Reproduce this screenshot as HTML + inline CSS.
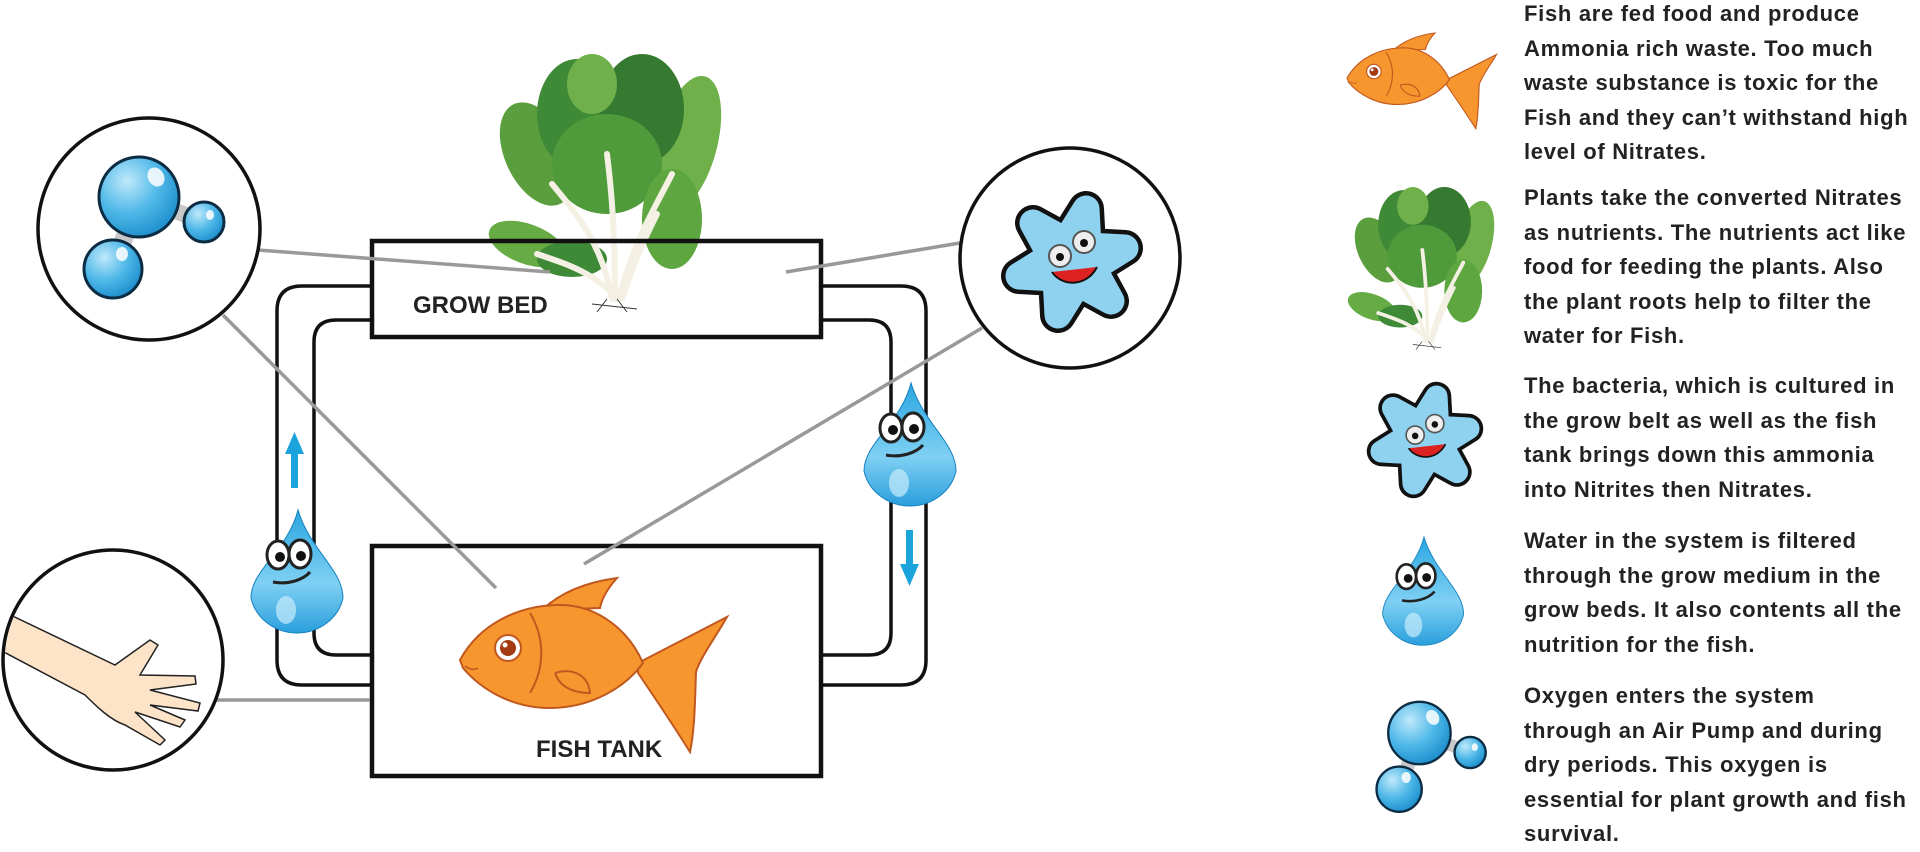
<!DOCTYPE html>
<html><head><meta charset="utf-8"><style>
html,body{margin:0;padding:0;background:#fff;}
body{width:1920px;height:851px;position:relative;overflow:hidden;font-family:"Liberation Sans",Arial,sans-serif;}
.p{position:absolute;left:1524px;width:400px;font-weight:bold;font-size:22px;line-height:34.5px;letter-spacing:0.7px;color:#222;white-space:nowrap;}
svg{position:absolute;left:0;top:0;}
</style></head><body>
<svg width="1920" height="851" viewBox="0 0 1920 851">
<defs>
<radialGradient id="bl" cx="0.35" cy="0.3" r="0.8"><stop offset="0" stop-color="#bfe9fb"/><stop offset="0.5" stop-color="#4fb8e8"/><stop offset="1" stop-color="#1387c8"/></radialGradient>
<linearGradient id="dr" x1="0" y1="0" x2="0" y2="1"><stop offset="0" stop-color="#2aa6e0"/><stop offset="0.6" stop-color="#7fd0f3"/><stop offset="1" stop-color="#2a9fdc"/></linearGradient>
<g id="fish">
 <path d="M82,32 C105,10 135,3 157,0 C148,10 142,20 140,30 Z" fill="#f7962e" stroke="#c0571f" stroke-width="2"/>
 <path d="M178,85 L267,39 C255,60 240,80 236,94 C235,120 235,150 230,174 C215,150 195,120 178,95 Z" fill="#f7962e" stroke="#c0571f" stroke-width="2"/>
 <path d="M0,82 C20,45 60,27 100,27 C140,27 170,55 183,85 C165,110 130,130 90,130 C50,130 20,110 3,90 Z" fill="#f7962e" stroke="#c0571f" stroke-width="2"/>
 <path d="M70,35 C85,60 85,90 70,115" fill="none" stroke="#c0571f" stroke-width="2"/>
 <path d="M95,95 C110,90 128,95 130,115 C115,115 100,110 95,95" fill="none" stroke="#c0571f" stroke-width="2"/>
 <path d="M5,88 C10,92 15,92 18,90" fill="none" stroke="#c0571f" stroke-width="1.5"/>
 <circle cx="48" cy="70" r="13" fill="#fff" stroke="#c0571f" stroke-width="2"/>
 <circle cx="48" cy="70" r="8" fill="#a33a12"/>
 <circle cx="45" cy="67" r="2.5" fill="#fff"/>
</g>
<g id="drop">
 <path d="M50,0 C62,40 95,60 95,88 A47,44 0 0 1 3,88 C3,60 40,40 50,0Z" fill="url(#dr)" stroke="#1580c0" stroke-width="1"/>
 <ellipse cx="30" cy="45" rx="11" ry="14" fill="#fff" stroke="#222" stroke-width="3"/>
 <ellipse cx="52" cy="44" rx="11" ry="14" fill="#fff" stroke="#222" stroke-width="3"/>
 <circle cx="32" cy="47" r="5" fill="#111"/><circle cx="53" cy="46" r="5" fill="#111"/>
 <path d="M25,72 C40,75 55,70 62,62" fill="none" stroke="#222" stroke-width="3"/>
 <ellipse cx="38" cy="100" rx="10" ry="14" fill="#c8ecfb" opacity="0.7"/>
</g>
<g id="mol">
 <line x1="-11" y1="-32" x2="54" y2="-7" stroke="#c8c8c8" stroke-width="16"/>
 <line x1="-11" y1="-32" x2="-37" y2="40" stroke="#c8c8c8" stroke-width="18"/>
 <circle cx="-11" cy="-32" r="40" fill="url(#bl)" stroke="#0c2c44" stroke-width="3"/>
 <circle cx="54" cy="-7" r="20" fill="url(#bl)" stroke="#0c2c44" stroke-width="3"/>
 <circle cx="-37" cy="40" r="29" fill="url(#bl)" stroke="#0c2c44" stroke-width="3"/>
 <ellipse cx="6" cy="-52" rx="8" ry="10" fill="#fff" opacity="0.85" transform="rotate(-30 6 -52)"/>
 <ellipse cx="60" cy="-14" rx="4" ry="5" fill="#fff" opacity="0.85"/>
 <ellipse cx="-28" cy="25" rx="6" ry="7" fill="#fff" opacity="0.85"/>
</g>
<g id="bac">
 <polygon points="14,-53 16,-16 53,-14 21,6 39,39 6,21 -14,53 -16,16 -53,14 -21,-6 -39,-39 -6,-21" fill="#111" stroke="#111" stroke-width="36" stroke-linejoin="round"/>
 <polygon points="14,-53 16,-16 53,-14 21,6 39,39 6,21 -14,53 -16,16 -53,14 -21,-6 -39,-39 -6,-21" fill="#8fd2ef" stroke="#8fd2ef" stroke-width="27" stroke-linejoin="round"/>
 <circle cx="-12" cy="-6" r="11" fill="#eee" stroke="#555" stroke-width="2"/><circle cx="-12" cy="-5" r="4" fill="#111"/>
 <circle cx="12" cy="-20" r="11" fill="#eee" stroke="#555" stroke-width="2"/><circle cx="12" cy="-19" r="4" fill="#111"/>
 <path d="M-20,10 C-10,25 15,25 25,5" fill="#d22" stroke="#111" stroke-width="2"/>
</g>
<g id="plant">
 <ellipse cx="40" cy="100" rx="32" ry="55" fill="#5b9e3e" transform="rotate(-25 40 100)"/>
 <ellipse cx="190" cy="90" rx="30" ry="70" fill="#6fb04a" transform="rotate(15 190 90)"/>
 <ellipse cx="80" cy="60" rx="40" ry="55" fill="#3f8a36"/>
 <ellipse cx="145" cy="55" rx="42" ry="55" fill="#357a30"/>
 <ellipse cx="110" cy="110" rx="55" ry="50" fill="#4f9a3a"/>
 <ellipse cx="30" cy="190" rx="40" ry="20" fill="#67ab45" transform="rotate(20 30 190)"/>
 <ellipse cx="75" cy="205" rx="35" ry="18" fill="#3f8a36"/>
 <ellipse cx="175" cy="165" rx="30" ry="50" fill="#5ea640"/>
 <ellipse cx="95" cy="30" rx="25" ry="30" fill="#6fb04a"/>
 <g stroke="#f4f1e4" stroke-width="6" fill="none" stroke-linecap="round">
  <path d="M115,245 C105,190 80,160 55,130"/><path d="M118,245 C118,180 115,140 110,100"/>
  <path d="M122,245 C135,190 160,150 175,120"/><path d="M120,245 C100,220 70,210 40,200"/>
  <path d="M125,245 C140,200 150,180 160,160"/>
 </g>
 <g stroke="#333" stroke-width="1" fill="none"><path d="M95,250 L140,255 M110,245 L100,258 M120,245 L130,258"/></g>
</g>
</defs>

<g fill="none" stroke="#111" stroke-width="3.5">
 <path d="M372,286 H302 Q277,286 277,311 V660 Q277,685 302,685 H372"/>
 <path d="M372,320 H336 Q314,320 314,342 V633 Q314,655 336,655 H372"/>
 <path d="M821,286 H901 Q926,286 926,311 V660 Q926,685 901,685 H821"/>
 <path d="M821,320 H869 Q891,320 891,342 V633 Q891,655 869,655 H821"/>
</g>

<use href="#plant" transform="translate(497,54)"/>

<rect x="372" y="241" width="449" height="96" fill="none" stroke="#111" stroke-width="4.5"/>
<rect x="372" y="546" width="449" height="230" fill="#fff" stroke="#111" stroke-width="4.5"/>
<text x="413" y="313" font-family="Liberation Sans,Arial,sans-serif" font-weight="bold" font-size="24" fill="#222">GROW BED</text>
<text x="536" y="757" font-family="Liberation Sans,Arial,sans-serif" font-weight="bold" font-size="24" fill="#222">FISH TANK</text>
<use href="#fish" transform="translate(460,578)"/>

<g stroke="#999" stroke-width="3.5">
 <line x1="258" y1="250" x2="550" y2="272"/>
 <line x1="223" y1="315" x2="496" y2="588"/>
 <line x1="217" y1="700" x2="370" y2="700"/>
 <line x1="960" y1="243" x2="786" y2="272"/>
 <line x1="982" y1="328" x2="584" y2="564"/>
</g>

<g fill="#1ba3dc">
 <rect x="291" y="452" width="7" height="36"/><polygon points="285,454 294.5,432 304,454"/>
 <rect x="906" y="530" width="7" height="36"/><polygon points="900,564 909.5,586 919,564"/>
</g>

<use href="#drop" transform="translate(248,510)"/>
<use href="#drop" transform="translate(861,383)"/>

<circle cx="149" cy="229" r="111" fill="#fff" stroke="#111" stroke-width="3.5"/>
<use href="#mol" transform="translate(150,229)"/>
<circle cx="1070" cy="258" r="110" fill="#fff" stroke="#111" stroke-width="3.5"/>
<use href="#bac" transform="translate(1072,262)"/>
<clipPath id="hc"><circle cx="113" cy="660" r="108"/></clipPath>
<circle cx="113" cy="660" r="110" fill="#fff" stroke="#111" stroke-width="3.5"/>
<g clip-path="url(#hc)">
 <path d="M0,610 L115,665 L150,640 L158,645 L140,675 L195,676 L196,684 L150,690 L200,703 L198,711 L150,705 L185,720 L180,727 L135,712 L165,740 L160,745 L125,725 C110,720 95,705 85,695 L0,650Z" fill="#fde3c8" stroke="#222" stroke-width="1.5"/>
</g>

<use href="#fish" transform="translate(1347,33) scale(0.56,0.55)"/>
<use href="#plant" transform="translate(1353,187) scale(0.63)"/>
<use href="#bac" transform="translate(1425,440) scale(0.82)"/>
<use href="#drop" transform="translate(1380,537) scale(0.88)"/>
<use href="#mol" transform="translate(1428,758) scale(0.78)"/>
</svg>

<div class="p" style="top:-3px">Fish are fed food and produce<br>Ammonia rich waste. Too much<br>waste substance is toxic for the<br>Fish and they can’t withstand high<br>level of Nitrates.</div>
<div class="p" style="top:181px">Plants take the converted Nitrates<br>as nutrients. The nutrients act like<br>food for feeding the plants. Also<br>the plant roots help to filter the<br>water for Fish.</div>
<div class="p" style="top:369px">The bacteria, which is cultured in<br>the grow belt as well as the fish<br>tank brings down this ammonia<br>into Nitrites then Nitrates.</div>
<div class="p" style="top:524px">Water in the system is filtered<br>through the grow medium in the<br>grow beds. It also contents all the<br>nutrition for the fish.</div>
<div class="p" style="top:679px">Oxygen enters the system<br>through an Air Pump and during<br>dry periods. This oxygen is<br>essential for plant growth and fish<br>survival.</div>
</body></html>
